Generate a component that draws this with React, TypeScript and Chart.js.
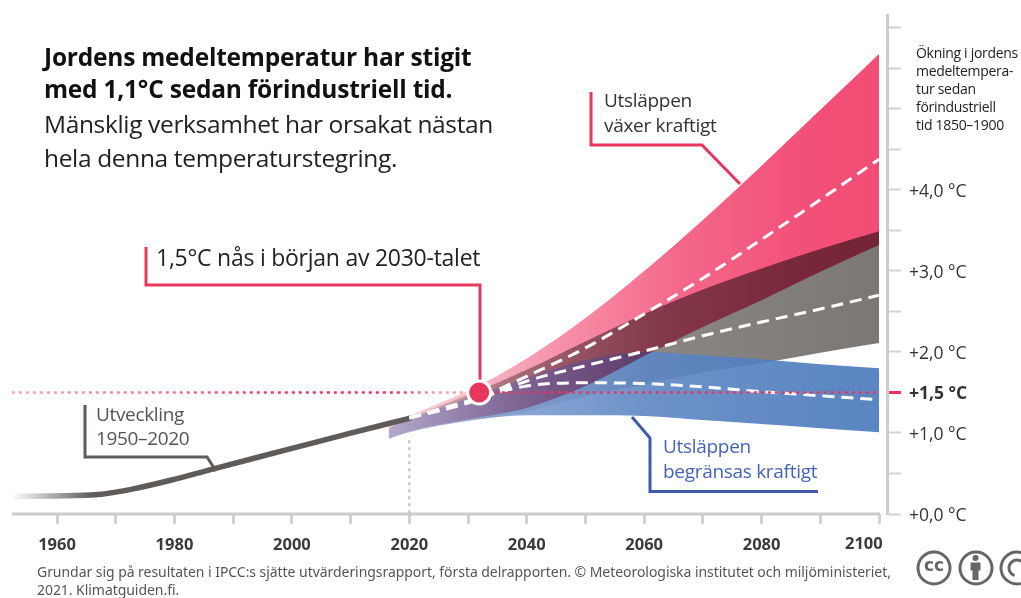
import React, { useEffect, useRef } from "react";
import { Chart, registerables } from "chart.js";

Chart.register(...registerables);

const bandYears = [2016.5, 2020, 2030, 2040, 2050, 2060, 2070, 2080, 2090, 2100];
const highTop = [1.09, 1.21, 1.52, 1.92, 2.42, 3.0, 3.63, 4.3, 4.99, 5.68];
const highBottom = [0.93, 1.02, 1.17, 1.31, 1.58, 1.95, 2.31, 2.64, 2.99, 3.32];
const midTop = [1.07, 1.185, 1.47, 1.78, 2.13, 2.47, 2.77, 3.03, 3.27, 3.49];
const midBottom = [0.93, 1.01, 1.15, 1.26, 1.46, 1.6, 1.75, 1.86, 1.99, 2.11];
const lowTop = [1.06, 1.17, 1.43, 1.68, 1.9, 2.0, 1.96, 1.91, 1.85, 1.8];
const lowBottom = [0.93, 1.01, 1.15, 1.22, 1.22, 1.21, 1.16, 1.11, 1.06, 1.01];

const medianYears = [2020, 2030, 2040, 2050, 2060, 2070, 2080, 2090, 2100];
const highMedian = [1.185, 1.38, 1.7, 2.05, 2.47, 2.91, 3.39, 3.88, 4.38];
const midMedian = [1.185, 1.37, 1.64, 1.83, 2.01, 2.2, 2.37, 2.53, 2.7];
const lowMedian = [1.185, 1.395, 1.58, 1.62, 1.61, 1.57, 1.51, 1.46, 1.41];

const historyYears = [1952.3, 1959, 1967, 1970, 1973, 1979.5, 1986.5, 1999.5, 2009.5, 2020];
const historyValues = [0.216, 0.222, 0.24, 0.27, 0.31, 0.42, 0.555, 0.8, 0.99, 1.18];

const thresholdYears = [1952.3, 2100];
const thresholdValue = 1.5;
const crossingYear = 2031.9;
const startLineYear = 2020;
const startLineValues = [0.91, 0];

const labelledTemps = [0, 1, 1.5, 2, 3, 4];
const xMin = 1952.33;
const xMax = 2101.36;

const titleBold = ["Jordens medeltemperatur har stigit", "med 1,1°C sedan förindustriell tid."];
const titleNormal = ["Mänsklig verksamhet har orsakat nästan", "hela denna temperaturstegring."];
const axisCaption = ["Ökning i jordens", "medeltempera-", "tur sedan", "förindustriell", "tid 1850–1900"];
const footer = [
  "Grundar sig på resultaten i IPCC:s sjätte utvärderingsrapport, första delrapporten. © Meteorologiska institutet och miljöministeriet,",
  "2021. Klimatguiden.fi.",
];

const FONT = '"Open Sans", sans-serif';
const RED = "#E8365F";
const DARK = "#5F5B59";
const BLUE = "#3F5BA9";

const pairs = (xs: number[], ys: number[]) => xs.map((x, i) => ({ x, y: ys[i] }));

function gradient(chart: any, stops: [number, string][]) {
  const s = chart.scales.x;
  if (!s || !chart.chartArea) return stops[stops.length - 1][1];
  const x0 = s.getPixelForValue(stops[0][0]);
  const x1 = s.getPixelForValue(stops[stops.length - 1][0]);
  const g = chart.ctx.createLinearGradient(x0, 0, x1, 0);
  stops.forEach(([v, c]) => g.addColorStop((v - stops[0][0]) / (stops[stops.length - 1][0] - stops[0][0]), c));
  return g;
}

const pinkStops: [number, string][] = [
  [2016.5, "#FADCE4"], [2032, "#F7B5C5"], [2046, "#F690A8"], [2066, "#F4688A"], [2086, "#F2517A"], [2100, "#F24D74"],
];
const grayStops: [number, string][] = [
  [2016.5, "#EEECEB"], [2039, "#A8A4A3"], [2060, "#8A8785"], [2100, "#7A7775"],
];
const blueStops: [number, string][] = [
  [2016.5, "rgba(177,192,225,0.9)"], [2035, "rgba(131,160,212,0.9)"], [2061, "rgba(92,134,194,0.9)"], [2100, "rgba(72,120,186,0.9)"],
];
const historyStops: [number, string][] = [[1952.3, "#FFFFFF"], [1966, DARK], [2020, DARK]];
const dottedStops: [number, string][] = [
  [1952.3, "#F7A3B7"], [1975, "#F17F99"], [2000, RED], [2018, RED], [2024, "#F59DB2"], [2031, "#F59DB2"], [2034, RED], [2100, RED],
];

function boundary(values: number[], blend: string, fillColor?: [number, string][]) {
  return {
    data: pairs(bandYears, values),
    borderWidth: 0,
    pointRadius: 0,
    cubicInterpolationMode: "monotone",
    fill: fillColor ? "+1" : false,
    backgroundColor: fillColor ? (c: any) => gradient(c.chart, fillColor) : "transparent",
    blend,
  };
}

function median(values: number[]) {
  return {
    data: pairs(medianYears, values),
    borderColor: "#FFFFFF",
    borderWidth: 3,
    borderDash: [12, 7],
    pointRadius: 0,
    cubicInterpolationMode: "monotone",
    fill: false,
  };
}

function polyline(ctx: CanvasRenderingContext2D, pts: number[][], color: string, w = 3) {
  ctx.save();
  ctx.strokeStyle = color;
  ctx.lineWidth = w;
  ctx.lineJoin = "miter";
  ctx.beginPath();
  pts.forEach(([x, y], i) => (i ? ctx.lineTo(x, y) : ctx.moveTo(x, y)));
  ctx.stroke();
  ctx.restore();
}

function text(ctx: CanvasRenderingContext2D, s: string, x: number, y: number, font: string, color: string, spacing = "0px") {
  ctx.save();
  ctx.font = font;
  ctx.fillStyle = color;
  (ctx as any).letterSpacing = spacing;
  ctx.textAlign = "left";
  ctx.textBaseline = "alphabetic";
  ctx.fillText(s, x, y);
  ctx.restore();
}

const annotations = {
  id: "annotations",
  beforeDatasetsDraw(chart: any) {
    const ctx: CanvasRenderingContext2D = chart.ctx;
    const xs = chart.scales.x;
    // x axis line stops at 2100, the y axis stands apart from it
    polyline(ctx, [[xs.left, 514], [xs.getPixelForValue(2100) + 1, 514]], "#CCCCCC", 3);
    text(ctx, "2100", 845, 549, `700 16.5px ${FONT}`, "#3C3A3A");

    titleBold.forEach((s, i) => text(ctx, s, 44, 66 + i * 32, `700 24.5px ${FONT}`, "#111111", "-0.22px"));
    titleNormal.forEach((s, i) => text(ctx, s, 44, 133 + i * 34, `400 24.5px ${FONT}`, "#222222", "-0.35px"));

    polyline(ctx, [[591, 92], [591, 145], [702, 145], [740, 184]], RED);
    text(ctx, "Utsläppen", 604, 107, `400 19px ${FONT}`, "#333333", "-0.3px");
    text(ctx, "växer kraftigt", 604, 132, `400 19px ${FONT}`, "#333333", "-0.3px");

    polyline(ctx, [[146, 247], [146, 285], [480, 285], [480, 385]], RED);
    text(ctx, "1,5°C nås i början av 2030-talet", 156, 266, `400 23px ${FONT}`, "#222222", "-0.25px");

    polyline(ctx, [[85, 405], [85, 457], [207, 457], [216, 471]], DARK);
    text(ctx, "Utveckling", 96, 421, `400 19px ${FONT}`, "#555555", "-0.35px");
    text(ctx, "1950–2020", 96, 445, `400 19px ${FONT}`, "#555555", "-0.35px");

    polyline(ctx, [[632, 417], [650, 438], [650, 491.5], [818, 491.5]], BLUE);
    text(ctx, "Utsläppen", 663, 453, `400 19px ${FONT}`, "#4464B4", "-0.3px");
    text(ctx, "begränsas kraftigt", 663, 478, `400 19px ${FONT}`, "#4464B4", "-0.3px");

    const capY = [58, 76, 94, 112, 130];
    axisCaption.forEach((s, i) => text(ctx, s, 916, capY[i], `400 14px ${FONT}`, "#222222", "-0.3px"));
    footer.forEach((s, i) => text(ctx, s, 37, 577 + i * 18, `400 14px "Noto Sans", sans-serif`, "#555555", "-0.05px"));

    // Creative Commons marks
    const G = "#666666";
    ctx.save();
    ctx.strokeStyle = G;
    ctx.fillStyle = G;
    ctx.lineWidth = 3;
    [934, 976, 1017].forEach((cx) => {
      ctx.beginPath();
      ctx.arc(cx, 568, 16, 0, Math.PI * 2);
      ctx.stroke();
    });
    ctx.font = `800 17px "DejaVu Sans", sans-serif`;
    ctx.textAlign = "center";
    ctx.textBaseline = "middle";
    ctx.fillText("cc", 934, 567);
    ctx.beginPath();
    ctx.arc(975.5, 558, 3, 0, Math.PI * 2);
    ctx.fill();
    ctx.fillRect(970.5, 562.5, 10, 8);
    ctx.fillRect(972.5, 568, 6, 12);
    ctx.beginPath();
    ctx.arc(1017, 568, 8, Math.PI * 0.6, Math.PI * 1.9);
    ctx.stroke();
    ctx.restore();
  },
  afterDatasetDraw(chart: any, args: any) {
    // the pink band overprints; the white and red lines sit on top
    const next = chart.data.datasets[args.index - 1];
    chart.ctx.globalCompositeOperation = next && next.blend ? next.blend : "source-over";
  },
};

const blendStart = {
  id: "blendStart",
  beforeDatasetsDraw(chart: any) {
    chart.ctx.globalCompositeOperation = "source-over";
  },
  afterDatasetsDraw(chart: any) {
    chart.ctx.globalCompositeOperation = "source-over";
  },
};

export default function App() {
  const ref = useRef<HTMLCanvasElement>(null);
  useEffect(() => {
    if (!ref.current) return;
    const chart = new Chart(ref.current, {
      type: "line",
      data: {
        datasets: [
          {
            data: [{ x: crossingYear, y: thresholdValue }],
            pointRadius: 11.5,
            pointBorderWidth: 3,
            pointBackgroundColor: RED,
            pointBorderColor: "#FFFFFF",
            showLine: false,
          },
          {
            data: pairs(thresholdYears, [thresholdValue, thresholdValue]),
            borderColor: (c: any) => gradient(c.chart, dottedStops),
            borderWidth: 2.5,
            borderDash: [3, 4],
            pointRadius: 0,
          },
          median(highMedian),
          median(midMedian),
          median(lowMedian),
          {
            data: pairs(historyYears, historyValues),
            borderColor: (c: any) => gradient(c.chart, historyStops),
            borderWidth: 5.5,
            pointRadius: 0,
            cubicInterpolationMode: "monotone",
            borderCapStyle: "round",
          },
          {
            data: pairs([startLineYear, startLineYear], startLineValues),
            borderColor: "#BDBDBD",
            borderWidth: 2,
            borderDash: [3, 4],
            pointRadius: 0,
          },
          boundary(highTop, "multiply", pinkStops),
          boundary(highBottom, "multiply"),
          boundary(lowTop, "source-over", blueStops),
          boundary(lowBottom, "source-over"),
          boundary(midTop, "source-over", grayStops),
          boundary(midBottom, "source-over"),
        ] as any,
      },
      options: {
        animation: false,
        responsive: false,
        parsing: { xAxisKey: "x", yAxisKey: "y" },
        layout: { autoPadding: false, padding: { left: 12, top: 15, right: 0, bottom: 0 } },
        plugins: {
          legend: { display: false },
          tooltip: { enabled: false },
          title: { display: false },
        },
        scales: {
          x: {
            type: "linear",
            min: xMin,
            max: xMax,
            border: { display: false },
            grid: { drawOnChartArea: false, drawTicks: true, tickLength: 10, tickWidth: 3, tickColor: "#D2D2D2" },
            ticks: {
              stepSize: 10,
              includeBounds: false,
              autoSkip: false,
              maxRotation: 0,
              padding: 11,
              color: "#3C3A3A",
              font: { family: FONT, size: 16.5, weight: "700" },
              callback: (v: any) => (Number(v) % 20 === 0 && Number(v) !== 2100 ? String(v) : ""),
            },
            afterFit: (s: any) => {
              s.height = 84;
              s.paddingLeft = 0;
              s.paddingRight = 0;
            },
          },
          y: {
            type: "linear",
            position: "right",
            min: 0,
            max: 6.16,
            border: { display: true, color: "#CCCCCC", width: 3 },
            grid: {
              drawOnChartArea: false,
              tickLength: 14,
              tickWidth: (c: any) => (c.tick?.value === thresholdValue ? 3 : 2),
              tickColor: (c: any) => (c.tick?.value === thresholdValue ? RED : "#D2D2D2"),
            },
            ticks: {
              stepSize: 0.5,
              includeBounds: false,
              autoSkip: false,
              padding: 8,
              labelOffset: 2,
              color: "#333333",
              font: (c: any) => ({
                family: FONT,
                size: 17.5,
                weight: c.tick?.value === thresholdValue ? "700" : "400",
              }),
              callback: (v: any) =>
                labelledTemps.includes(Number(v)) ? `+${Number(v).toFixed(1).replace(".", ",")} °C` : "",
            },
            afterFit: (s: any) => {
              s.width = 134;
              s.paddingTop = 0;
              s.paddingBottom = 0;
            },
          },
        },
      } as any,
      plugins: [blendStart, annotations],
    });
    return () => chart.destroy();
  }, []);
  return (
    <div style={{ position: "absolute", left: 0, top: 0, width: 1021, height: 598, background: "#fff", overflow: "hidden" }}>
      <canvas ref={ref} width={1021} height={598} style={{ display: "block" }} />
    </div>
  );
}
